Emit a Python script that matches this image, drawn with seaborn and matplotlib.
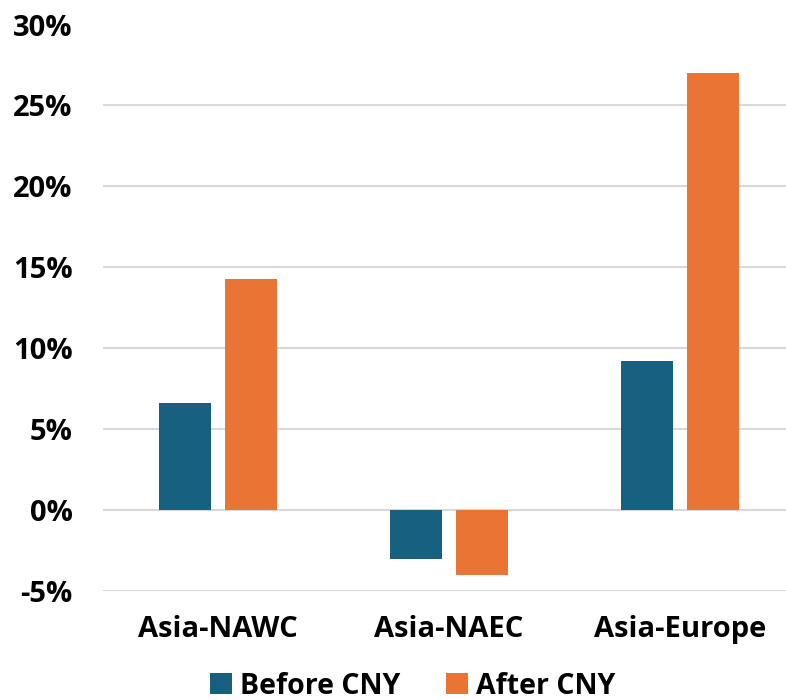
import matplotlib
matplotlib.use("Agg")
import matplotlib.pyplot as plt
import matplotlib.ticker as mticker
from matplotlib.patches import Patch
from matplotlib.font_manager import FontProperties
import pandas as pd
import seaborn as sns

# Freight rate change by trade lane, before and after Chinese New Year (%)
lanes = ["Asia-NAWC", "Asia-NAEC", "Asia-Europe"]
before_cny = [6.6, -3.0, 9.2]
after_cny = [14.3, -4.0, 27.0]
periods = ["Before CNY", "After CNY"]
colors = ["#176080", "#EA7434"]

df = pd.DataFrame({
    "lane": lanes * 2,
    "period": [periods[0]] * len(lanes) + [periods[1]] * len(lanes),
    "change": before_cny + after_cny,
})

sns.set_theme(style="white")
plt.rcParams["font.family"] = ["Open Sans", "DejaVu Sans"]
plt.rcParams["font.weight"] = "bold"
plt.rcParams["text.color"] = "black"

fig = plt.figure(figsize=(7.86, 7.0), dpi=100)
ax = fig.add_axes([102.5 / 786, 109 / 700, (786 - 102.5) / 786, (591 - 24.5) / 700])

sns.barplot(
    data=df, x="lane", y="change", hue="period",
    palette=colors, saturation=1, width=0.571, gap=0.21,
    edgecolor="none", linewidth=0, ax=ax, legend=False,
)

ax.set_ylim(-5, 30)
ax.set_xlim(-0.5, 2.5 - 9.5 / 231)
ax.yaxis.set_major_locator(mticker.MultipleLocator(5))
ax.yaxis.set_major_formatter(mticker.FuncFormatter(lambda v, _: f"{v:.0f}%"))
ax.grid(axis="y", color="#D9D9D9", linewidth=1.5)
ax.set_axisbelow(True)
for s in ax.spines.values():
    s.set_visible(False)
ax.set_xlabel("")
ax.set_ylabel("")
ax.tick_params(axis="y", length=0, pad=21.5, labelsize=21, labelcolor="black")
ax.tick_params(axis="x", length=0, pad=17, labelsize=21, labelcolor="black")
for lab in ax.get_xticklabels() + ax.get_yticklabels():
    lab.set_fontweight("bold")

legend_font = FontProperties(family=["Open Sans", "DejaVu Sans"], weight="bold", size=20.5)
handles = [Patch(facecolor=c, edgecolor="none") for c in colors]
fig.legend(
    handles, periods, loc="center", bbox_to_anchor=(413 / 786, 1 - 686 / 700),
    ncol=2, frameon=False, prop=legend_font, labelcolor="black",
    handlelength=0.75, handleheight=0.75, handletextpad=0.3, columnspacing=1.6,
    borderaxespad=0,
)

fig.savefig("out.png", dpi=100)
